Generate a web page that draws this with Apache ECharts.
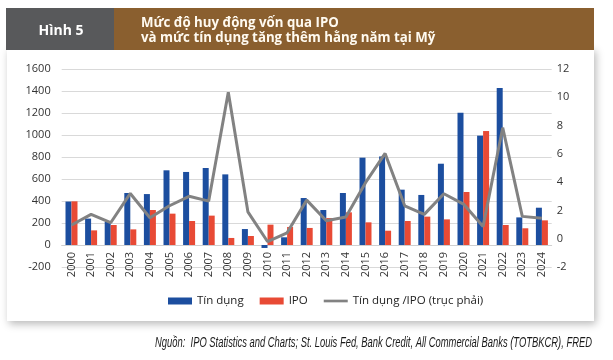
<!DOCTYPE html>
<html>
<head>
<meta charset="utf-8">
<script src="https://cdn.jsdelivr.net/npm/echarts@6/dist/echarts.min.js"></script>
<style>
html,body{margin:0;padding:0;background:#fff;}
#c{width:613px;height:360px;}
</style>
</head>
<body>
<div id="c"></div>
<script>
const years = ['2000','2001','2002','2003','2004','2005','2006','2007','2008','2009','2010','2011','2012','2013','2014','2015','2016','2017','2018','2019','2020','2021','2022','2023','2024'];
const credit = [395, 240, 210, 473, 463, 679, 664, 700, 642, 145, -27, 70, 427, 318, 473, 794, 805, 503, 455, 739, 1203, 994, 1427, 251, 339];
const ipo = [397, 133, 182, 142, 318, 285, 218, 267, 64, 82, 185, 164, 155, 245, 297, 206, 130, 218, 258, 233, 482, 1036, 182, 152, 224];
const ratio = [0.97, 1.72, 1.13, 3.2, 1.48, 2.33, 3.0, 2.66, 10.35, 1.9, -0.2, 0.42, 2.73, 1.27, 1.53, 3.96, 6.03, 2.33, 1.72, 3.18, 2.45, 0.87, 7.85, 1.58, 1.44];
const leftTicks = {min: -200, max: 1600, interval: 200};
const rightTicks = {min: -2, max: 12, interval: 2};
const seriesNames = ['Tín dụng', 'IPO', 'Tín dụng /IPO (trục phải)'];
const figLabel = 'Hình 5';
const titleLines = ['Mức độ huy động vốn qua IPO', 'và mức tín dụng tăng thêm hằng năm tại Mỹ'];
const sourceText = 'Nguồn:  IPO Statistics and Charts; St. Louis Fed, Bank Credit, All Commercial Banks (TOTBKCR), FRED';

const font = 'Open Sans';
const mctx = document.createElement('canvas').getContext('2d');
function measure(f, t) { mctx.font = f; return mctx.measureText(t).width; }
// source line: fit into the width it takes in the reference
const srcFont = 'italic 14px "Liberation Sans"';
const srcScale = 437 / measure(srcFont, sourceText);
// title size fitted to the reference line width
const titleSize = 13 * 198 / measure('bold 13px "Open Sans"', titleLines[0]);
const titleFont = 'bold ' + titleSize.toFixed(2) + 'px "Open Sans"';

const chart = echarts.init(document.getElementById('c'), null, {renderer: 'canvas'});
chart.setOption({
  animation: false,
  backgroundColor: '#ffffff',
  graphic: [
    {type: 'rect', z: 0, shape: {x: 7, y: 48, width: 587, height: 273},
     style: {fill: '#ffffff', shadowBlur: 8, shadowColor: 'rgba(0,0,0,0.28)', shadowOffsetX: 2, shadowOffsetY: 3}},
    {type: 'rect', z: 1, shape: {x: 6, y: 8, width: 108, height: 42}, style: {fill: '#58595b'}},
    {type: 'rect', z: 1, shape: {x: 114, y: 8, width: 480, height: 42}, style: {fill: '#8a5f2f'}},
    {type: 'text', z: 2, x: 61, y: 31,
     style: {text: figLabel, fill: '#ffffff', font: 'bold 14px "Open Sans"', align: 'center', verticalAlign: 'middle'}},
    {type: 'text', z: 2, x: 141, y: 23,
     style: {text: titleLines[0], fill: '#fffaf0', font: titleFont, verticalAlign: 'middle'}},
    {type: 'text', z: 2, x: 141, y: 38,
     style: {text: titleLines[1], fill: '#fffaf0', font: titleFont, verticalAlign: 'middle'}},
    {type: 'text', z: 2, x: 155, y: 343, scaleX: srcScale, originX: 0,
     style: {text: sourceText, fill: '#1a1a1a', font: srcFont, verticalAlign: 'middle'}}
  ],
  grid: {left: 61.7, right: 61.3, top: 69, bottom: 93, containLabel: false},
  legend: {
    top: 290, left: 163, itemGap: 16, itemWidth: 24, itemHeight: 7,
    textStyle: {fontFamily: font, fontSize: 11.5, color: '#222'},
    data: [
      {name: seriesNames[0], icon: 'rect'},
      {name: seriesNames[1], icon: 'rect'},
      {name: seriesNames[2], icon: 'path://M0,0 L27,0 L27,3 L0,3 Z'}
    ]
  },
  xAxis: {
    type: 'category', data: years,
    axisLine: {onZero: true, lineStyle: {color: '#d0d0d0', width: 1}},
    axisTick: {show: false},
    axisLabel: {rotate: 90, margin: -15, fontFamily: font, fontSize: 11, color: '#333'}
  },
  yAxis: [
    {type: 'value', min: leftTicks.min, max: leftTicks.max, interval: leftTicks.interval,
     axisLine: {show: false}, axisTick: {show: false},
     splitLine: {lineStyle: {color: '#d9d9d9', width: 1}},
     axisLabel: {margin: 11, fontFamily: font, fontSize: 11, color: '#333', formatter: v => String(v)}},
    {type: 'value', min: rightTicks.min, max: rightTicks.max, interval: rightTicks.interval,
     axisLine: {show: false}, axisTick: {show: false}, splitLine: {show: false},
     axisLabel: {margin: 5, fontFamily: font, fontSize: 11, color: '#333', formatter: v => String(v)}}
  ],
  series: [
    {name: seriesNames[0], type: 'bar', data: credit, barWidth: 6, barGap: '0%',
     itemStyle: {color: '#1c4e9f'}},
    {name: seriesNames[1], type: 'bar', data: ipo, barWidth: 6, barGap: '0%',
     itemStyle: {color: '#e84a35'}},
    {name: seriesNames[2], type: 'line', yAxisIndex: 1, data: ratio, symbol: 'none',
     lineStyle: {color: '#828282', width: 3}, itemStyle: {color: '#828282'}, z: 5}
  ]
});
</script>
</body>
</html>
